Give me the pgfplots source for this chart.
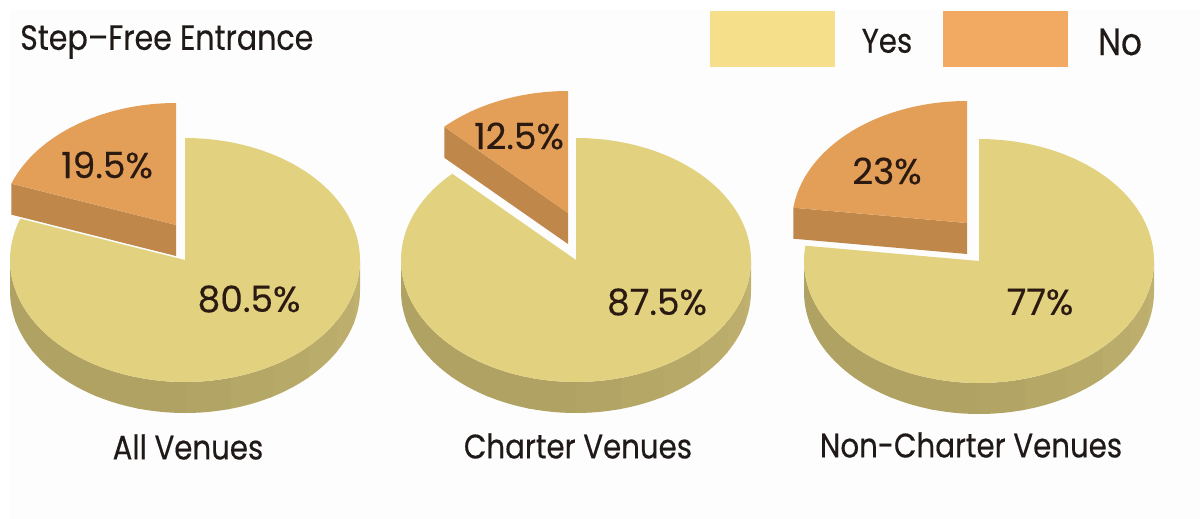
\documentclass[border=0pt]{standalone}
\usepackage{fontspec}
\setmainfont[FakeStretch=0.86,FakeBold=0.35]{Poppins}
\newfontfamily\pctfont[FakeBold=0.35]{Poppins}
\usepackage{pgfplots}
\pgfplotsset{compat=1.18}

\definecolor{yesTop}{HTML}{E2D27F}
\definecolor{yesWallLight}{HTML}{BFB16F}
\definecolor{yesWallDark}{HTML}{B0A262}
\definecolor{noTop}{HTML}{E39F57}
\definecolor{noWall}{HTML}{BF8749}
\definecolor{keyYes}{HTML}{F5DF8B}
\definecolor{keyNo}{HTML}{F2A961}
\definecolor{paper}{HTML}{FDFDFD}
\definecolor{ink}{HTML}{1F1A18}
\definecolor{pctink}{HTML}{2B1A12}

% ellipse radii and rim depth of every pie, in picture units
\newcommand\rx{175}
\newcommand\ry{122}
\newcommand\rim{31}

% append points of the ellipse centred on (#1,#2), angles #3 to #4 clockwise from the top,
% one point about every two degrees
\newcommand\addarc[4]{%
  \pgfmathtruncatemacro\arcn{max(2,ceil(abs(#4-(#3))/2))}%
  \pgfmathsetmacro\arcstep{(#4-(#3))/\arcn}%
  \foreach \k in {0,...,\arcn}{%
    \pgfmathsetmacro\arcang{#3+\k*\arcstep}%
    \pgfmathsetmacro\ptx{#1+\rx*sin(\arcang)}%
    \pgfmathsetmacro\pty{#2-\ry*cos(\arcang)}%
    \xdef\ptlist{\ptlist(\ptx,\pty) }%
  }}
\newcommand\fillpts[1]{%
  \edef\doplot{\noexpand\addplot[draw=none,fill=#1,forget plot] coordinates {\ptlist};}%
  \doplot}

% #1,#2 centre; #3 Yes share; #4 No share; #5,#6 centre of the pulled-out No slice
\newcommand\venuepie[6]{%
  \pgfmathsetmacro\yesend{3.6*#3}%
  \pgfmathsetmacro\noend{-3.6*#4}%
  \pgfmathsetmacro\lowy{#2+\rim}%
  % rim of the Yes slice, lighter towards the right
  \foreach \s in {0,...,11}{%
    \pgfmathsetmacro\stripfrom{90+15*\s}%
    \pgfmathsetmacro\stripto{min(106+15*\s,270)}%
    \pgfmathsetmacro\stripmix{min(100,\s*100/6)}%
    \gdef\ptlist{}\addarc{#1}{#2}{\stripfrom}{\stripto}\addarc{#1}{\lowy}{\stripto}{\stripfrom}%
    \fillpts{yesWallDark!\stripmix!yesWallLight}%
  }%
  % face of the Yes slice
  \xdef\ptlist{(#1,#2) }\addarc{#1}{#2}{0}{\yesend}\fillpts{yesTop}%
  % cut side of the No slice
  \pgfmathsetmacro\endx{#5+\rx*sin(\noend)}%
  \pgfmathsetmacro\endy{#6-\ry*cos(\noend)}%
  \pgfmathsetmacro\endlow{\endy+\rim}%
  \pgfmathsetmacro\apexlow{#6+\rim}%
  \xdef\ptlist{(#5,#6) (\endx,\endy) (\endx,\endlow) (#5,\apexlow) }\fillpts{noWall}%
  % face of the No slice
  \xdef\ptlist{(#5,#6) }\addarc{#5}{#6}{0}{\noend}\fillpts{noTop}%
}

\newcommand\lab[3]{\node[text=ink,inner sep=0pt] at (axis cs:#1,#2) {\fontsize{34}{40}\selectfont #3};}
\newcommand\pct[3]{\node[text=pctink,inner sep=0pt] at (axis cs:#1,#2) {\fontsize{36}{42}\selectfont\pctfont #3};}

\begin{document}
\begin{tikzpicture}
\begin{axis}[
  at={(0,0)}, anchor=south west,
  scale only axis, width=1200pt, height=519pt,
  xmin=0, xmax=1200, ymin=0, ymax=519, y dir=reverse,
  hide axis, clip=true,
]
% page, its tint and the two key swatches
\addplot[draw=none,fill=white,forget plot] coordinates {(0,0) (1200,0) (1200,519) (0,519)};
\addplot[draw=none,fill=paper,forget plot] coordinates {(10,10) (1200,10) (1200,519) (10,519)};
\addplot[draw=none,fill=keyYes,forget plot] coordinates {(710,11) (835,11) (835,67) (710,67)};
\addplot[draw=none,fill=keyNo,forget plot] coordinates {(943,11) (1068,11) (1068,67) (943,67)};

\venuepie{185}{260}{80.5}{19.5}{176}{225}
\venuepie{576}{260}{87.5}{12.5}{568}{213}
\venuepie{979}{261}{77}{23}{967}{223}

\node[text=ink,inner sep=0pt,anchor=west] at (axis cs:20,42) {\fontsize{35}{40}\selectfont Step--Free Entrance};
\lab{887}{41}{Yes}
\node[text=ink,inner sep=0pt] at (axis cs:1120,42) {\fontsize{38}{40}\selectfont No};

\pct{107}{165}{19.5\%}
\pct{249}{299}{80.5\%}
\pct{519}{136}{12.5\%}
\pct{657}{302}{87.5\%}
\pct{887}{171}{23\%}
\pct{1040}{302}{77\%}

\lab{188}{447}{All Venues}
\lab{578}{446}{Charter Venues}
\lab{971}{445}{Non-Charter Venues}
\end{axis}
\end{tikzpicture}
\end{document}
